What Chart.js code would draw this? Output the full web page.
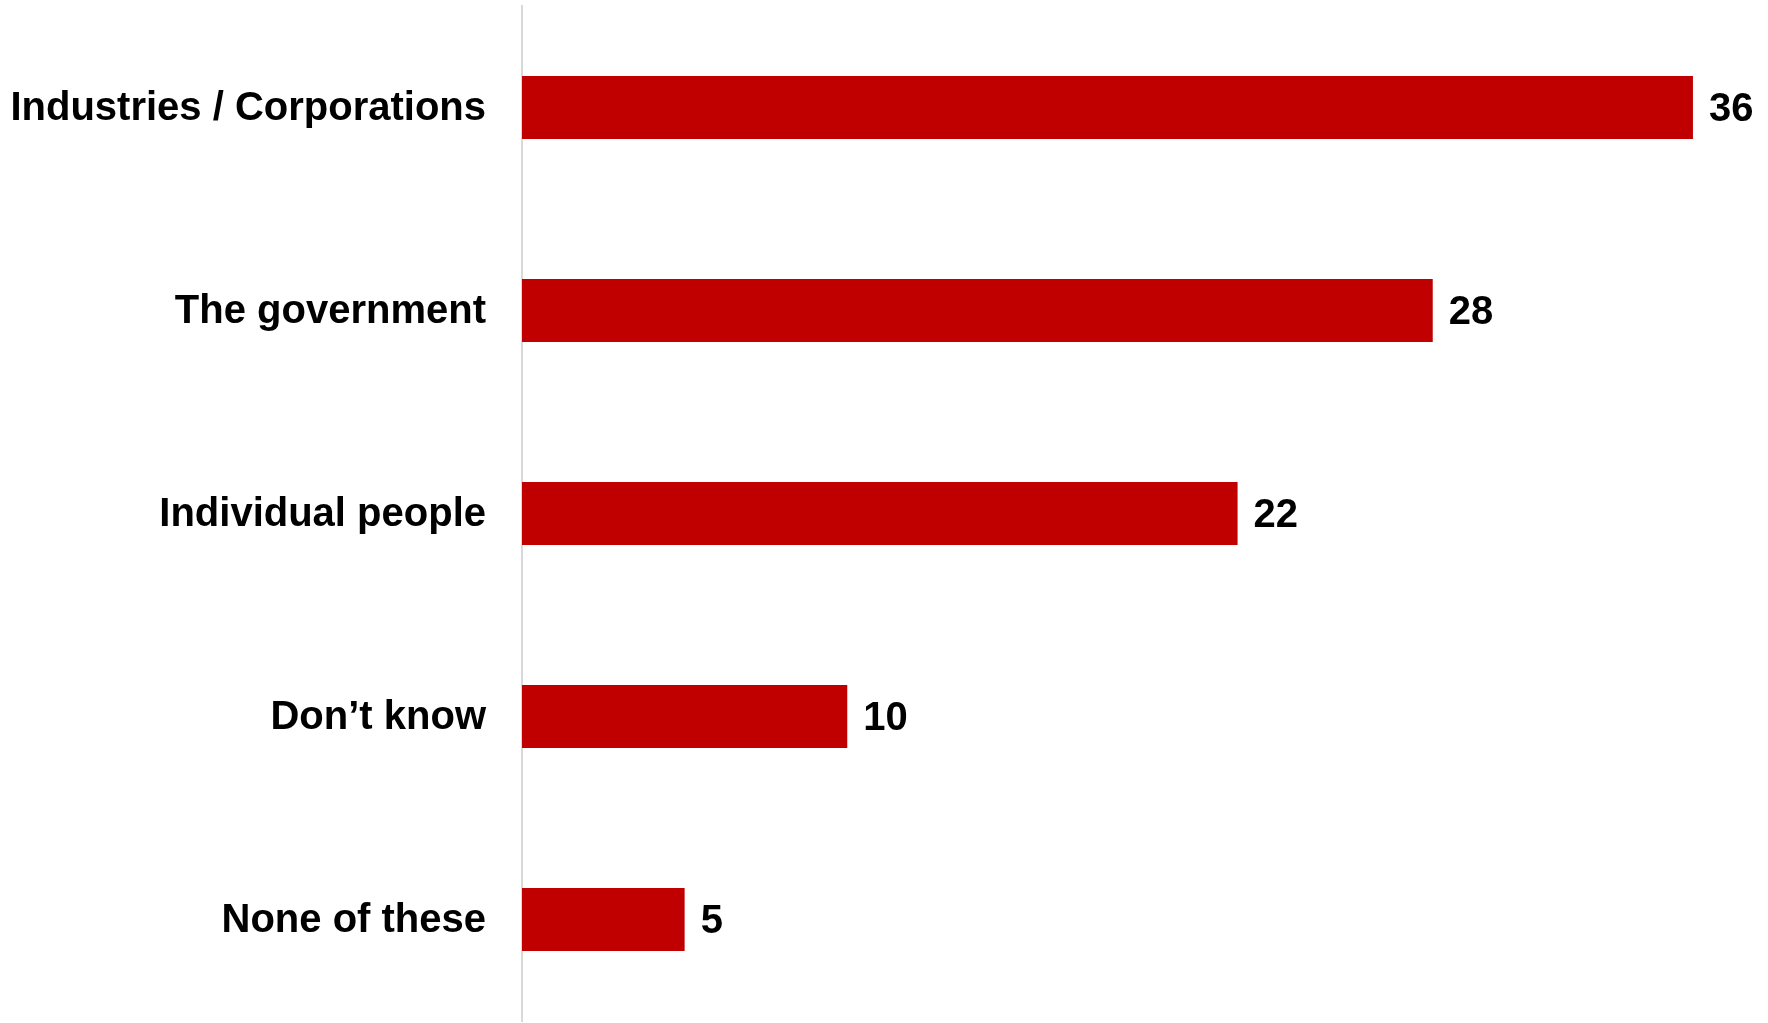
<!DOCTYPE html>
<html>
<head>
<meta charset="utf-8">
<script src="https://cdn.jsdelivr.net/npm/chart.js@4.4.0/dist/chart.umd.min.js"></script>
<style>
  html, body { margin: 0; padding: 0; background: #ffffff; }
  #wrap { width: 1768px; height: 1023px; position: relative; }
</style>
</head>
<body>
<div id="wrap"><canvas id="c" width="1768" height="1023"></canvas></div>
<script>
const categories = ["Industries / Corporations", "The government", "Individual people", "Don\u2019t know", "None of these"];
const values = [36, 28, 22, 10, 5];
const xMax = 38;

const valueLabels = {
  id: 'valueLabels',
  afterDatasetsDraw(chart) {
    const ctx = chart.ctx;
    const meta = chart.getDatasetMeta(0);
    ctx.save();
    ctx.font = 'bold 40px "Liberation Sans", Arial, sans-serif';
    ctx.fillStyle = '#000000';
    ctx.textAlign = 'left';
    ctx.textBaseline = 'middle';
    meta.data.forEach((bar, i) => {
      ctx.fillText(String(values[i]), bar.x + 16, bar.y + 2);
    });
    ctx.restore();
  }
};

new Chart(document.getElementById('c'), {
  type: 'bar',
  data: {
    labels: categories,
    datasets: [{
      data: values,
      backgroundColor: '#C00000',
      borderWidth: 0,
      categoryPercentage: 1.0,
      barPercentage: 0.31
    }]
  },
  options: {
    indexAxis: 'y',
    responsive: false,
    animation: false,
    layout: { padding: { top: 6, bottom: 2, left: 0, right: 10 } },
    plugins: { legend: { display: false }, tooltip: { enabled: false } },
    scales: {
      x: {
        display: false,
        min: 0,
        max: xMax
      },
      y: {
        grid: { display: false, drawTicks: false, tickLength: 0 },
        border: { display: true, color: '#d9d9d9', width: 2 },
        ticks: {
          padding: 36,
          labelOffset: 1,
          color: '#000000',
          font: { family: '"Liberation Sans", Arial, sans-serif', size: 40, weight: 'bold' }
        },
        afterFit(scale) {
          scale.width = 522;
          scale.paddingTop = 0;
          scale.paddingBottom = 0;
        }
      }
    }
  },
  plugins: [valueLabels]
});
</script>
</body>
</html>
